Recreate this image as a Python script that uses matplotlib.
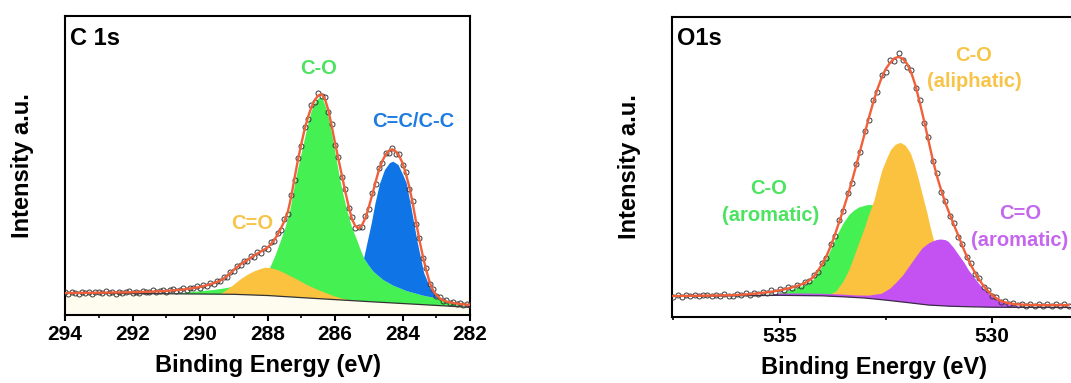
import numpy as np
import matplotlib
matplotlib.use("Agg")
import matplotlib.pyplot as plt
from matplotlib.ticker import MultipleLocator, FormatStrFormatter

plt.rcParams['font.family'] = ['Liberation Sans', 'DejaVu Sans']
plt.rcParams['font.weight'] = 'bold'

# ---- C 1s ----
c1s_be = np.round(np.arange(294.0, 281.95, -0.1), 1)
c1s_raw = [22.8, 21.5, 23.2, 22.4, 21.2, 22.7, 21.9, 23.2, 21.1, 22.7,
           23.0, 21.7, 23.7, 22.2, 22.9, 21.5, 23.5, 22.2, 22.9, 23.8,
           22.1, 23.5, 21.8, 23.9, 23.3, 22.8, 24.8, 22.8, 23.9, 24.8,
           22.8, 24.8, 25.6, 24.3, 25.4, 27.0, 25.1, 27.2, 26.7, 28.7,
           27.4, 30.2, 29.1, 31.9, 31.2, 34.4, 33.6, 37.8, 38.2, 43.5,
           44.0, 49.3, 49.6, 54.5, 54.0, 58.6, 58.4, 62.9, 62.3, 66.8,
           66.2, 72.6, 73.8, 82.0, 85.5, 95.8, 101.2, 120.0, 135.0, 157.5,
           169.0, 188.5, 196.0, 210.5, 213.5, 221.8, 219.2, 218.5, 203.0, 191.5,
           170.0, 158.5, 138.0, 126.0, 107.0, 98.0, 87.2, 88.5, 88.0, 99.0,
           106.0, 122.5, 131.0, 147.5, 152.0, 162.5, 162.5, 167.5, 161.5, 160.8,
           150.0, 143.0, 126.0, 114.0, 91.0, 77.0, 57.0, 46.8, 31.5, 26.5,
           19.0, 17.8, 13.9, 14.6, 11.8, 12.9, 10.8, 12.1, 10.0, 11.2,
           9.7]
c1s_fit = [22.0, 22.0, 22.0, 22.1, 22.1, 22.1, 22.2, 22.2, 22.2, 22.3,
           22.3, 22.3, 22.4, 22.4, 22.5, 22.5, 22.6, 22.6, 22.7, 22.7,
           22.8, 22.9, 23.0, 23.1, 23.2, 23.3, 23.4, 23.6, 23.7, 23.9,
           24.1, 24.3, 24.6, 24.9, 25.2, 25.5, 26.0, 26.5, 27.0, 27.5,
           28.1, 28.9, 29.8, 30.8, 31.8, 33.0, 34.5, 36.5, 39.0, 42.0,
           45.0, 48.0, 50.5, 53.0, 55.0, 57.3, 59.5, 61.5, 63.5, 65.5,
           67.5, 71.0, 75.0, 80.5, 87.0, 94.0, 103.0, 118.0, 137.0, 155.0,
           171.0, 186.0, 198.0, 208.0, 215.0, 219.5, 221.0, 216.0, 205.0, 189.0,
           172.0, 156.0, 140.0, 124.0, 109.0, 96.0, 89.0, 86.7, 90.0, 97.0,
           108.0, 120.0, 133.0, 145.0, 154.0, 160.5, 164.5, 165.7, 163.5, 159.0,
           152.0, 141.0, 128.0, 112.0, 93.0, 75.0, 59.0, 45.0, 33.0, 25.0,
           20.0, 16.8, 14.8, 13.5, 12.6, 12.0, 11.5, 11.1, 10.7, 10.4,
           10.2]
c1s_bg_x = [294.0, 292.0, 290.0, 289.0, 288.0, 287.0, 286.0, 285.0, 284.0, 283.0, 282.0]
c1s_bg_y = [21.7, 21.5, 21.0, 20.7, 19.5, 17.4, 15.4, 13.4, 11.5, 9.6, 7.7]

c1s_co_x = [290.8, 290.4, 290.0, 289.6, 289.2, 288.8, 288.4, 288.1, 287.93, 287.78,
            287.63, 287.48, 287.33, 287.2, 287.1, 287.0, 286.9, 286.8, 286.7, 286.6,
            286.5, 286.44, 286.35, 286.25, 286.15, 286.05, 285.95, 285.85, 285.75, 285.65,
            285.5, 285.36, 285.25, 285.14, 285.01, 284.86, 284.57, 284.27, 283.88, 283.38,
            282.84, 282.5, 282.2]
c1s_co_y = [21.2, 22.5, 23.8, 25.0, 27.0, 30.0, 35.0, 41.0, 46.7, 58.0,
            71.7, 86.0, 104.0, 128.0, 145.0, 160.0, 175.0, 190.0, 203.0, 211.0,
            216.0, 217.5, 215.0, 206.0, 192.0, 174.0, 155.0, 136.0, 120.0, 106.0,
            88.0, 76.0, 66.0, 56.7, 50.0, 43.3, 35.0, 29.3, 24.0, 19.3,
            15.7, 11.5, 8.3]
c1s_cdo_x = [289.4, 289.2, 289.0, 288.8, 288.6, 288.4, 288.2, 288.07, 287.9, 287.7,
             287.5, 287.3, 287.04, 286.8, 286.5, 286.2, 286.05, 285.8, 285.6, 285.45]
c1s_cdo_y = [20.8, 25.0, 30.0, 35.5, 40.0, 43.5, 46.0, 47.3, 46.8, 45.0,
             42.0, 38.5, 34.0, 29.5, 25.0, 21.0, 19.0, 16.5, 14.9, 14.3]
c1s_cc_x = [285.14, 285.02, 284.91, 284.8, 284.67, 284.52, 284.37, 284.27, 284.12,
            283.98, 283.88, 283.73, 283.56, 283.36, 283.14, 282.94, 282.84]
c1s_cc_top = [56.7, 75.0, 92.0, 112.0, 131.0, 145.0, 152.0, 153.3, 150.0,
              140.0, 132.0, 106.0, 74.0, 42.0, 24.0, 18.0, 15.7]
c1s_cc_low_x = [285.14, 285.01, 284.86, 284.57, 284.27, 283.88, 283.38, 282.84]
c1s_cc_low_y = [56.7, 50.0, 43.3, 35.0, 29.3, 24.0, 19.3, 15.7]

# ---- O 1s ----
o1s_be = np.round(np.arange(537.5, 528.15, -0.1), 1)
o1s_raw = [20.0, 21.9, 20.2, 21.5, 20.4, 22.0, 20.6, 21.8, 22.3, 20.5,
           21.9, 20.9, 22.4, 21.0, 20.8, 22.6, 21.4, 23.4, 22.0, 24.0,
           22.6, 24.9, 23.8, 26.4, 25.0, 27.8, 26.5, 29.6, 28.6, 31.9,
           31.2, 35.3, 35.4, 41.6, 45.0, 54.0, 59.0, 72.5, 80.5, 96.5,
           106.0, 123.5, 133.5, 153.0, 165.0, 185.5, 197.0, 216.5, 225.0, 241.5,
           245.0, 256.5, 255.5, 264.0, 257.0, 250.0, 246.5, 229.0, 216.5, 194.0,
           179.5, 156.0, 143.5, 125.0, 116.0, 101.0, 94.0, 80.0, 73.0, 59.5,
           53.5, 42.5, 38.5, 29.8, 27.2, 21.0, 19.5, 15.0, 15.6, 12.6,
           13.9, 11.6, 13.2, 11.1, 12.8, 10.9, 12.6, 10.8, 12.5, 11.0,
           12.7, 10.9, 12.4, 11.2]
o1s_fit = [20.8, 20.8, 20.9, 20.9, 21.0, 21.0, 21.1, 21.1, 21.2, 21.2,
           21.3, 21.4, 21.5, 21.6, 21.7, 21.9, 22.1, 22.4, 22.7, 23.1,
           23.5, 24.0, 24.5, 25.1, 25.8, 26.5, 27.4, 28.4, 29.5, 30.7,
           32.2, 34.0, 36.5, 40.0, 46.0, 52.5, 60.5, 70.5, 82.0, 94.5,
           107.5, 121.0, 135.5, 151.0, 167.0, 183.0, 199.0, 214.0, 227.5, 239.0,
           248.0, 254.0, 258.5, 260.0, 258.0, 253.0, 244.0, 231.0, 214.0, 196.0,
           177.0, 158.0, 141.0, 127.0, 114.0, 103.0, 92.0, 82.0, 71.0, 61.0,
           52.0, 44.0, 37.0, 31.0, 26.0, 22.0, 18.5, 16.0, 14.5, 13.5,
           12.9, 12.5, 12.2, 12.0, 11.9, 11.8, 11.8, 11.7, 11.7, 11.7,
           11.7, 11.7, 11.7, 11.7]
o1s_bg_x = [537.6, 536.0, 535.0, 534.0, 533.5, 533.0, 532.5, 532.0, 531.5, 531.0, 530.5, 530.0, 529.0, 528.0]
o1s_bg_y = [20.5, 21.0, 21.5, 21.0, 20.0, 18.8, 16.7, 14.3, 11.8, 10.6, 10.0, 9.6, 9.4, 9.3]

o1s_aro_x = [535.3, 535.0, 534.8, 534.6, 534.4, 534.2, 534.1, 534.0, 533.9, 533.8,
             533.7, 533.6, 533.5, 533.36, 533.25, 533.13, 532.93, 532.77, 532.6, 532.4,
             532.2, 532.0, 531.8, 531.6, 531.4, 531.2, 531.0, 530.8]
o1s_aro_y = [21.5, 23.5, 25.8, 28.3, 31.5, 37.0, 43.5, 50.0, 57.0, 66.0,
             76.0, 85.0, 93.0, 101.7, 106.0, 109.3, 111.7, 111.7, 108.0, 98.0,
             84.0, 66.0, 48.0, 33.0, 23.0, 16.0, 11.5, 10.3]
o1s_ali_x = [533.9, 533.67, 533.5, 533.36, 533.25, 533.13, 533.0, 532.9, 532.77, 532.68,
             532.58, 532.48, 532.38, 532.27, 532.15, 532.03, 531.91, 531.82, 531.72, 531.62,
             531.52, 531.45, 531.37, 531.2, 531.0, 530.8, 530.6, 530.4, 530.3]
o1s_ali_y = [20.6, 25.0, 35.0, 46.7, 59.0, 73.3, 88.0, 101.0, 116.0, 131.0,
             146.7, 157.0, 166.7, 172.0, 174.0, 171.0, 163.3, 152.0, 136.7, 120.0,
             103.3, 90.0, 76.7, 52.0, 33.0, 22.0, 15.0, 11.0, 10.1]
o1s_cdo_x = [535.3, 535.0, 534.5, 534.0, 533.6, 533.2, 532.9, 532.6, 532.4, 532.27,
             532.1, 531.95, 531.8, 531.64, 531.5, 531.41, 531.3, 531.21, 531.1, 531.02,
             530.9, 530.78, 530.65, 530.55, 530.43, 530.31, 530.2, 530.08, 529.95, 529.84,
             529.7, 529.53, 529.35, 529.2]
o1s_cdo_y = [21.5, 23.3, 23.3, 23.0, 22.4, 21.4, 21.2, 23.0, 28.0, 33.3,
             41.0, 50.0, 59.0, 68.3, 73.0, 75.0, 76.8, 77.3, 76.8, 75.0,
             69.0, 61.7, 54.0, 46.7, 40.0, 33.3, 28.0, 23.3, 19.5, 16.7,
             13.8, 11.7, 10.2, 9.4]

GREEN = '#44f052'
YELLOW = '#fbc23f'
BLUE = '#0f75e6'
PURPLE = '#c452f2'
FIT = '#f0603a'


def peak(ax, px, py, bx, by, color, z):
    # close the peak outline back along the background points under it
    px, py, bx, by = map(np.asarray, (px, py, bx, by))
    m = (bx < px.max()) & (bx > px.min())
    ax.fill(np.r_[px, bx[m][::-1]], np.r_[py, by[m][::-1]], color=color, lw=0, zorder=z)


def style(ax, xlim, ylim, major, minor):
    ax.set_xlim(*xlim)
    ax.set_ylim(*ylim)
    ax.xaxis.set_major_locator(MultipleLocator(major))
    ax.xaxis.set_minor_locator(MultipleLocator(minor))
    ax.xaxis.set_major_formatter(FormatStrFormatter('%d'))
    ax.set_yticks([])
    ax.tick_params(axis='x', which='major', direction='out', length=4, width=1.5,
                   pad=3.5, labelsize=15)
    ax.tick_params(axis='x', which='minor', direction='out', length=2.5, width=1.2)
    for s in ax.spines.values():
        s.set_linewidth(1.5)
    ax.set_xlabel('Binding Energy (eV)', fontsize=17, fontweight='bold')
    ax.set_ylabel('Intensity a.u.', fontsize=17, fontweight='bold')
    ax.xaxis.set_label_coords(0.5, -0.13)
    ax.yaxis.set_label_coords(-0.076, 0.5)


fig = plt.figure(figsize=(10.71, 3.83), dpi=100)
ax1 = fig.add_axes([0.0607, 0.1775, 0.3782, 0.7815])
ax2 = fig.add_axes([0.6272, 0.1728, 0.3784, 0.7833])

# C 1s panel
ax1.fill_between(c1s_bg_x, 0, c1s_bg_y, color='#fefcef', lw=0, zorder=1)
peak(ax1, c1s_co_x, c1s_co_y, c1s_bg_x, c1s_bg_y, GREEN, 2)
peak(ax1, c1s_cdo_x, c1s_cdo_y, c1s_bg_x, c1s_bg_y, YELLOW, 3)
ax1.fill(np.r_[c1s_cc_x, c1s_cc_low_x[::-1]], np.r_[c1s_cc_top, c1s_cc_low_y[::-1]],
         color=BLUE, lw=0, zorder=4)
ax1.plot(c1s_bg_x, c1s_bg_y, color='#333333', lw=0.9, zorder=5)
ax1.plot(c1s_be, c1s_raw, 'o', ms=3.6, mfc='none', mec='#3a3a3a', mew=0.7, zorder=6)
ax1.plot(c1s_be, c1s_fit, color=FIT, lw=1.7, zorder=7)
style(ax1, (294, 282), (0, 299.3), 2, 1)

ax1.text(0.012, 0.925, 'C 1s', transform=ax1.transAxes, fontsize=17,
         fontweight='bold', ha='left', va='center')
ax1.text(0.625, 0.822, 'C-O', transform=ax1.transAxes, fontsize=14.5,
         fontweight='bold', color='#4be35f', ha='center', va='center')
ax1.text(0.859, 0.645, 'C=C/C-C', transform=ax1.transAxes, fontsize=14.5,
         fontweight='bold', color='#1e7be0', ha='center', va='center')
ax1.text(0.462, 0.307, 'C=O', transform=ax1.transAxes, fontsize=14.5,
         fontweight='bold', color='#f7c449', ha='center', va='center')

# O 1s panel
peak(ax2, o1s_aro_x, o1s_aro_y, o1s_bg_x, o1s_bg_y, GREEN, 2)
peak(ax2, o1s_ali_x, o1s_ali_y, o1s_bg_x, o1s_bg_y, YELLOW, 3)
peak(ax2, o1s_cdo_x, o1s_cdo_y, o1s_bg_x, o1s_bg_y, PURPLE, 4)
ax2.plot(o1s_bg_x, o1s_bg_y, color='#3a2a4a', lw=0.9, zorder=5)
ax2.plot(o1s_be, o1s_raw, 'o', ms=3.6, mfc='none', mec='#3a3a3a', mew=0.7, zorder=6)
ax2.plot(o1s_be, o1s_fit, color=FIT, lw=1.7, zorder=7)
style(ax2, (537.54, 528.0), (0, 300), 5, 2.5)

ax2.text(0.013, 0.928, 'O1s', transform=ax2.transAxes, fontsize=17,
         fontweight='bold', ha='left', va='center')
ax2.text(0.744, 0.872, 'C-O', transform=ax2.transAxes, fontsize=14.5,
         fontweight='bold', color='#f7c449', ha='center', va='center')
ax2.text(0.746, 0.783, '(aliphatic)', transform=ax2.transAxes, fontsize=14.5,
         fontweight='bold', color='#f7c449', ha='center', va='center')
ax2.text(0.240, 0.428, 'C-O', transform=ax2.transAxes, fontsize=14.5,
         fontweight='bold', color='#4be35f', ha='center', va='center')
ax2.text(0.244, 0.339, '(aromatic)', transform=ax2.transAxes, fontsize=14.5,
         fontweight='bold', color='#4be35f', ha='center', va='center')
ax2.text(0.859, 0.345, 'C=O', transform=ax2.transAxes, fontsize=14.5,
         fontweight='bold', color='#c666ef', ha='center', va='center')
ax2.text(0.859, 0.256, '(aromatic)', transform=ax2.transAxes, fontsize=14.5,
         fontweight='bold', color='#c666ef', ha='center', va='center')

fig.savefig('out.png', dpi=100)
